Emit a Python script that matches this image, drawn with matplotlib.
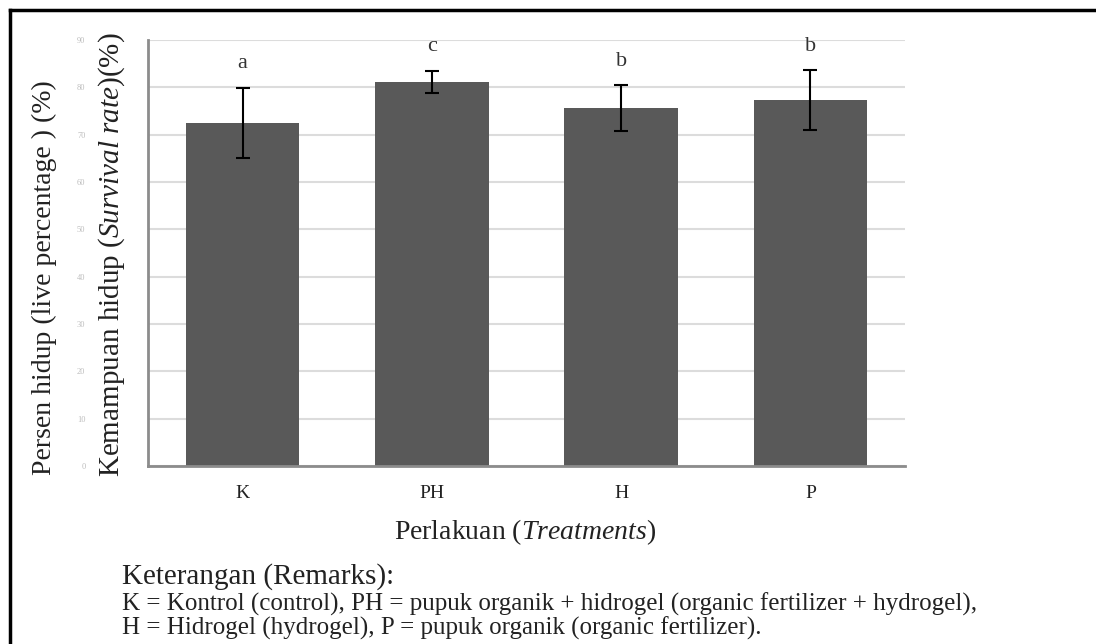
import numpy as np
import matplotlib
matplotlib.use("Agg")
import matplotlib.pyplot as plt
from matplotlib.lines import Line2D

plt.rcParams['font.family'] = ['Liberation Serif', 'DejaVu Serif']
plt.rcParams['mathtext.fontset'] = 'custom'
plt.rcParams['mathtext.rm'] = 'Liberation Serif'
plt.rcParams['mathtext.it'] = 'Liberation Serif:italic'

# data
perlakuan = ["K", "PH", "H", "P"]
persen_hidup = [72.5, 81.1, 75.6, 77.3]
galat = [7.4, 2.4, 4.8, 6.3]
huruf = ["a", "c", "b", "b"]
yticks = [0, 10, 20, 30, 40, 50, 60, 70, 80, 90]

fig = plt.figure(figsize=(10.96, 6.44), dpi=100)
ax = fig.add_axes([0.135, 0.2764, 0.6907, 0.6615])

x = np.arange(len(perlakuan))
ax.bar(x, persen_hidup, width=0.6, color="#595959", zorder=2)
ax.errorbar(x, persen_hidup, yerr=galat, fmt="none", ecolor="black",
            elinewidth=1.5, capsize=5, capthick=1.5, zorder=3)

# huruf notasi di atas error bar
for xi, m, e, h in zip(x, persen_hidup, galat, huruf):
    ax.annotate(h, (xi, m + e), xytext=(0, 14), textcoords="offset points",
                ha="center", va="baseline", fontsize=16, color="#333333")

ax.set_xlim(-0.5, 3.5)
ax.set_ylim(0, 90)
ax.set_yticks(yticks)
ax.set_yticklabels([str(v) for v in yticks], fontsize=6, color="#bdbdbd")
ax.tick_params(axis="y", length=0, pad=45)
ax.tick_params(axis="x", length=0, pad=14, labelsize=14)
ax.set_xticks(x)
ax.set_xticklabels(perlakuan, color="#222222")
ax.grid(axis="y", color="#dcdcdc", linewidth=1.5, zorder=0)
ax.set_axisbelow(True)
for s in ["top", "right"]:
    ax.spines[s].set_visible(False)
ax.spines["left"].set_color("#8c8c8c")
ax.spines["left"].set_linewidth(2)
ax.spines["bottom"].set_color("#8c8c8c")
ax.spines["bottom"].set_linewidth(2)

# label sumbu
fig.text(44 / 1096, 1 - 278 / 644, "Persen hidup (live percentage ) (%)",
         rotation=90, ha="center", va="center", fontsize=20, color="#222222")
fig.text(112 / 1096, 1 - 255 / 644, r"Kemampuan hidup ($\mathit{Survival\ rate}$)(%)",
         rotation=90, ha="center", va="center", fontsize=21, color="#222222")
fig.text(525 / 1096, 1 - 532 / 644, r"Perlakuan ($\mathit{Treatments}$)",
         ha="center", va="center", fontsize=20, color="#222222")

# keterangan
fig.text(122 / 1096, 1 - 577 / 644, "Keterangan (Remarks):",
         ha="left", va="center", fontsize=21, color="#222222")
fig.text(122 / 1096, 1 - 604 / 644,
         "K = Kontrol (control), PH = pupuk organik + hidrogel (organic fertilizer + hydrogel),",
         ha="left", va="center", fontsize=18, color="#222222")
fig.text(122 / 1096, 1 - 628 / 644,
         "H = Hidrogel (hydrogel), P = pupuk organik (organic fertilizer).",
         ha="left", va="center", fontsize=18, color="#222222")

# bingkai
fig.add_artist(Line2D([10 / 1096, 1], [1 - 10 / 644, 1 - 10 / 644],
                      color="black", linewidth=2.5))
fig.add_artist(Line2D([10 / 1096, 10 / 1096], [0, 1 - 10 / 644],
                      color="black", linewidth=2.5))

fig.savefig("out.png", dpi=100)
